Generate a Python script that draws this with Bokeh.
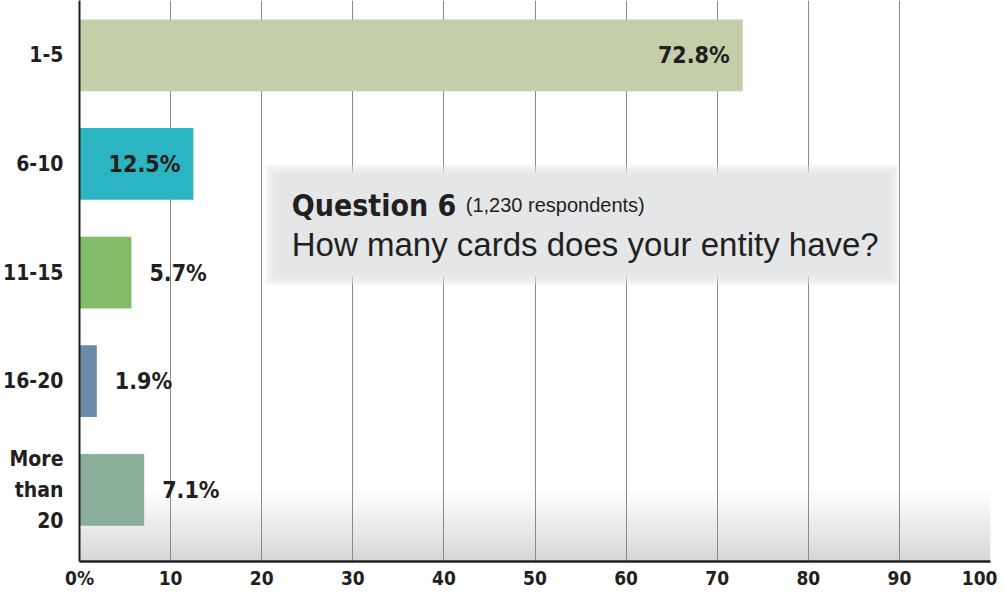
from bokeh.plotting import figure
from bokeh.models import ColumnDataSource, FixedTicker, BoxAnnotation, Label
from bokeh.core.properties import value
from bokeh.embed import file_html
from bokeh.resources import INLINE

# ---- data ----
categories = ["1-5", "6-10", "11-15", "16-20", "More than 20"]
category_labels = ["1-5", "6-10", "11-15", "16-20", "More\nthan\n20"]
values = [72.8, 12.5, 5.7, 1.9, 7.1]
bar_colors = ["#c4cea8", "#2bb4c1", "#82bc69", "#6a8aa9", "#8aae99"]
x_ticks = [0, 10, 20, 30, 40, 50, 60, 70, 80, 90, 100]
x_tick_labels = ["0%", "10", "20", "30", "40", "50", "60", "70", "80", "90", "100"]
title_bold = "Question 6"
title_note = "(1,230 respondents)"
question = "How many cards does your entity have?"

BOLD_FONT = "DejaVu Sans Condensed"
REG_FONT = "Liberation Sans"
TXT = "#231f20"

n = len(categories)
ypos = [n - 1 - i for i in range(n)]

Y0, Y1 = -0.66, 4.505

p = figure(width=997, height=591, x_range=(0, 100), y_range=(Y0, Y1),
           output_backend="svg", toolbar_location=None,
           min_border_left=73, min_border_right=7, min_border_top=0,
           min_border_bottom=24)
p.outline_line_color = None
p.background_fill_color = "white"

# grid
p.ygrid.grid_line_color = None
p.xgrid.ticker = FixedTicker(ticks=x_ticks)
p.xgrid.grid_line_color = "#8a8a8a"
p.xgrid.grid_line_width = 1

# bottom gradient (decorative)
steps = 16
for k in range(steps):
    frac = (k + 1) / steps
    top = Y0 + 0.64 * frac ** 1.3
    p.add_layout(BoxAnnotation(left=0, right=100, bottom=Y0, top=top,
                               fill_color="#a8a9ad", fill_alpha=0.04,
                               line_color=None, level="image"))

# bars
src = ColumnDataSource(dict(y=ypos, v=values, c=bar_colors))
p.hbar(y="y", left=0, right="v", height=0.66, fill_color="c",
       line_color=None, source=src)

inside = [i for i, v in enumerate(values) if v > 10]
outside = [i for i, v in enumerate(values) if v <= 10]
src_in = ColumnDataSource(dict(x=[values[i] for i in inside], y=[ypos[i] for i in inside],
                               t=[f"{values[i]:.1f}%" for i in inside]))
src_out = ColumnDataSource(dict(x=[values[i] for i in outside], y=[ypos[i] for i in outside],
                                t=[f"{values[i]:.1f}%" for i in outside]))
p.text(x="x", y="y", text="t", source=src_in, text_align="right",
       text_baseline="middle", x_offset=-13, text_font=value(BOLD_FONT),
       text_font_style="bold", text_font_size="23px", text_color=TXT)
p.text(x="x", y="y", text="t", source=src_out, text_align="left",
       text_baseline="middle", x_offset=18, text_font=value(BOLD_FONT),
       text_font_style="bold", text_font_size="23px", text_color=TXT)

# question box with soft edge
bx0, bx1, by0, by1 = 20.2, 90.2, 1.872, 3.009
for k in range(6, 0, -1):
    dx = 0.18 * (7 - k)
    dy = 0.014 * (7 - k)
    p.add_layout(BoxAnnotation(left=bx0 + dx, right=bx1 - dx, bottom=by0 + dy,
                               top=by1 - dy, fill_color="#e3e4e6", fill_alpha=0.22,
                               line_color=None))
p.add_layout(BoxAnnotation(left=bx0 + 1.3, right=bx1 - 1.3, bottom=by0 + 0.1,
                           top=by1 - 0.1, fill_color="#e5e6e8", fill_alpha=1.0,
                           line_color=None))

p.add_layout(Label(x=23.3, y=2.62, text=title_bold, text_font=BOLD_FONT,
                   text_font_style="bold", text_font_size="30px",
                   text_color=TXT, text_baseline="alphabetic"))
p.add_layout(Label(x=42.4, y=2.62, text=title_note, text_font=REG_FONT,
                   text_font_size="20px", text_color=TXT,
                   text_baseline="alphabetic"))
p.add_layout(Label(x=23.3, y=2.255, text=question, text_font=REG_FONT,
                   text_font_size="33px", text_color=TXT,
                   text_baseline="alphabetic"))

# axes
xa = p.xaxis[0]
xa.ticker = FixedTicker(ticks=x_ticks)
xa.major_label_overrides = {t: l for t, l in zip(x_ticks, x_tick_labels)}
xa.axis_line_color = "#231f20"
xa.axis_line_width = 2.5
xa.major_tick_line_color = None
xa.minor_tick_line_color = None
xa.major_tick_out = 0
xa.major_tick_in = 0
xa.minor_tick_out = 0
xa.minor_tick_in = 0
xa.major_label_text_font = BOLD_FONT
xa.major_label_text_font_style = "bold"
xa.major_label_text_font_size = "19px"
xa.major_label_text_color = TXT
xa.major_label_standoff = 5

ya = p.yaxis[0]
ya.ticker = FixedTicker(ticks=ypos)
ya.major_label_overrides = {y: l for y, l in zip(ypos, category_labels)}
ya.axis_line_color = "#231f20"
ya.axis_line_width = 2
ya.major_tick_line_color = None
ya.minor_tick_line_color = None
ya.major_tick_out = 0
ya.major_tick_in = 0
ya.minor_tick_out = 0
ya.minor_tick_in = 0
ya.major_label_text_font = BOLD_FONT
ya.major_label_text_font_style = "bold"
ya.major_label_text_font_size = "21px"
ya.major_label_text_color = TXT
ya.major_label_text_line_height = 1.3
ya.major_label_standoff = 16

open("out.html", "w").write(file_html(p, INLINE))
